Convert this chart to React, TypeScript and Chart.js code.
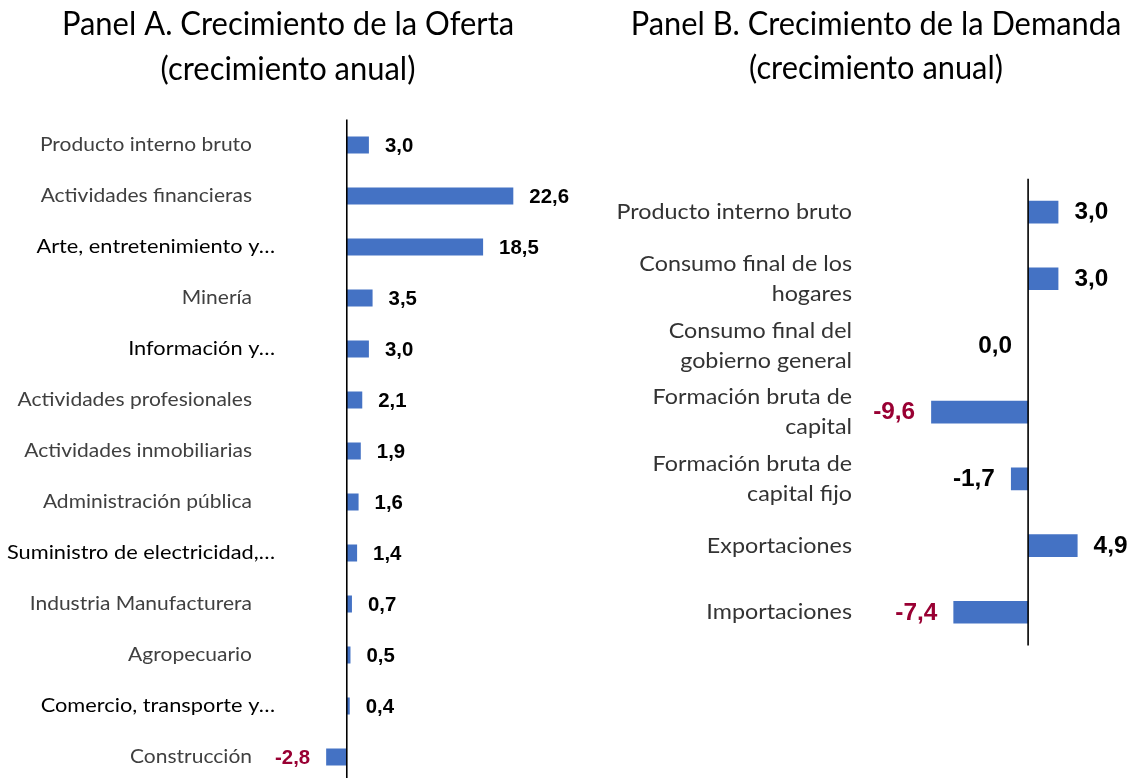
import React, { useEffect, useRef } from "react";
import { Chart, registerables } from "chart.js";

Chart.register(...registerables);

const supplyTitle = ["Panel A. Crecimiento de la Oferta", "(crecimiento anual)"];
const supplyCategories = [
  "Producto interno bruto",
  "Actividades financieras",
  "Arte, entretenimiento y…",
  "Minería",
  "Información y…",
  "Actividades profesionales",
  "Actividades inmobiliarias",
  "Administración pública",
  "Suministro de electricidad,…",
  "Industria Manufacturera",
  "Agropecuario",
  "Comercio, transporte y…",
  "Construcción",
];
const supplyValues = [3.0, 22.6, 18.5, 3.5, 3.0, 2.1, 1.9, 1.6, 1.4, 0.7, 0.5, 0.4, -2.8];

const demandTitle = ["Panel B. Crecimiento de la Demanda", "(crecimiento anual)"];
const demandCategories = [
  ["Producto interno bruto"],
  ["Consumo final de los", "hogares"],
  ["Consumo final del", "gobierno general"],
  ["Formación bruta de", "capital"],
  ["Formación bruta de", "capital fijo"],
  ["Exportaciones"],
  ["Importaciones"],
];
const demandValues = [3.0, 3.0, 0.0, -9.6, -1.7, 4.9, -7.4];

const BAR_COLOR = "#4472C4";
const NEG_COLOR = "#990033";
const TEXT_FONT = "Lato, 'Open Sans', sans-serif";
const VALUE_FONT = "'Liberation Sans', Arial, sans-serif";

function drawText(ctx: CanvasRenderingContext2D, s: string, x: number, y: number, align: CanvasTextAlign, sx: number) {
  ctx.save();
  ctx.translate(x, y);
  ctx.scale(sx, 1);
  ctx.textAlign = align;
  ctx.fillText(s, 0, 0);
  ctx.restore();
}

const fmt = (v: number) => v.toFixed(1).replace(".", ",");

const panelPlugin = {
  id: "panelDecor",
  afterDraw(chart: any, _args: any, o: any) {
    const ctx: CanvasRenderingContext2D = chart.ctx;
    const xs = chart.scales.x;
    const ys = chart.scales.y;
    const ca = chart.chartArea;
    const x0 = xs.getPixelForValue(0);
    ctx.save();
    // axis line at zero
    ctx.strokeStyle = "#000";
    ctx.lineWidth = 1.6;
    ctx.beginPath();
    ctx.moveTo(x0, ca.top);
    ctx.lineTo(x0, ca.bottom);
    ctx.stroke();

    // title
    ctx.fillStyle = "#000";
    ctx.textBaseline = "alphabetic";
    ctx.font = `${o.titleSize}px ${TEXT_FONT}`;
    o.title.forEach((line: string, i: number) => {
      drawText(ctx, line, o.titleX, o.titleY[i], "center", o.titleSx);
    });

    // category labels
    ctx.textBaseline = "middle";
    chart.data.labels.forEach((lab: any, i: number) => {
      const yc = ys.getPixelForValue(i);
      const lines: string[] = Array.isArray(lab) ? lab : [lab];
      const truncated = lines[0].endsWith("…");
      ctx.fillStyle = truncated ? "#000" : o.labelColor;
      ctx.font = `${o.labelSize}px ${TEXT_FONT}`;
      const xr = truncated ? o.labelRightTrunc : o.labelRight;
      const sx = truncated ? o.labelSxTrunc : o.labelSx;
      lines.forEach((ln, k) => {
        const y = yc + (k - (lines.length - 1) / 2) * o.labelLineHeight;
        drawText(ctx, ln, xr, y + o.labelDy, "right", sx);
      });
    });

    // value labels
    ctx.font = `bold ${o.valueSize}px ${VALUE_FONT}`;
    const meta = chart.getDatasetMeta(0);
    const vals = chart.data.datasets[0].data;
    meta.data.forEach((bar: any, i: number) => {
      const v = vals[i];
      const pos = v > 0;
      ctx.fillStyle = v <= -2.5 ? NEG_COLOR : "#000";
      const x = pos ? bar.x + o.valueOffset : bar.x - o.valueOffset;
      drawText(ctx, fmt(v), x, bar.y + 1, pos ? "left" : "right", o.valueSx);
    });
    ctx.restore();
  },
};

function Panel(props: {
  labels: any[];
  values: number[];
  min: number;
  max: number;
  width: number;
  height: number;
  padding: { left: number; right: number; top: number; bottom: number };
  barPct: number;
  deco: any;
}) {
  const ref = useRef<HTMLCanvasElement>(null);
  useEffect(() => {
    if (!ref.current) return;
    const chart = new Chart(ref.current, {
      type: "bar",
      data: {
        labels: props.labels,
        datasets: [
          {
            data: props.values,
            backgroundColor: BAR_COLOR,
            borderWidth: 0,
            categoryPercentage: 1,
            barPercentage: props.barPct,
          },
        ],
      },
      options: {
        indexAxis: "y",
        responsive: false,
        animation: false,
        devicePixelRatio: 1,
        layout: { padding: props.padding },
        scales: {
          x: { type: "linear", min: props.min, max: props.max, display: false },
          y: { type: "category", display: false },
        },
        plugins: {
          legend: { display: false },
          tooltip: { enabled: false },
          title: { display: false },
          panelDecor: props.deco,
        } as any,
      },
      plugins: [panelPlugin],
    } as any);
    return () => chart.destroy();
  }, []);
  return <canvas ref={ref} width={props.width} height={props.height} style={{ display: "block", width: props.width, height: props.height }} />;
}

export default function App() {
  return (
    <div style={{ position: "fixed", left: 0, top: 0, width: 1130, height: 778, overflow: "hidden", background: "#fff" }}>
      <div style={{ position: "absolute", left: 0, top: 0 }}>
        <Panel
          labels={supplyCategories}
          values={supplyValues}
          min={-3.5}
          max={25}
          width={620}
          height={783}
          padding={{ left: 321, right: 89, top: 119.5, bottom: 0.5 }}
          barPct={0.333}
          deco={{
            title: supplyTitle,
            titleX: 288,
            titleY: [35, 80],
            titleSize: 32,
            titleSx: 0.967,
            labelSize: 20,
            labelSx: 1.05,
            labelSxTrunc: 1.09,
            labelColor: "#404040",
            labelRight: 252,
            labelRightTrunc: 275,
            labelLineHeight: 30,
            labelDy: 0,
            valueSize: 20,
            valueSx: 1.02,
            valueOffset: 16,
          }}
        />
      </div>
      <div style={{ position: "absolute", left: 565, top: 0 }}>
        <Panel
          labels={demandCategories}
          values={demandValues}
          min={-11}
          max={9}
          width={565}
          height={778}
          padding={{ left: 352, right: 11, top: 178.7, bottom: 132.4 }}
          barPct={0.34}
          deco={{
            title: demandTitle,
            titleX: 311,
            titleY: [35, 79],
            titleSize: 32,
            titleSx: 0.963,
            labelSize: 22,
            labelSx: 1.06,
            labelSxTrunc: 1.06,
            labelColor: "#333",
            labelRight: 287,
            labelRightTrunc: 287,
            labelLineHeight: 30,
            labelDy: 0,
            valueSize: 23,
            valueSx: 1.06,
            valueOffset: 16,
          }}
        />
      </div>
    </div>
  );
}
